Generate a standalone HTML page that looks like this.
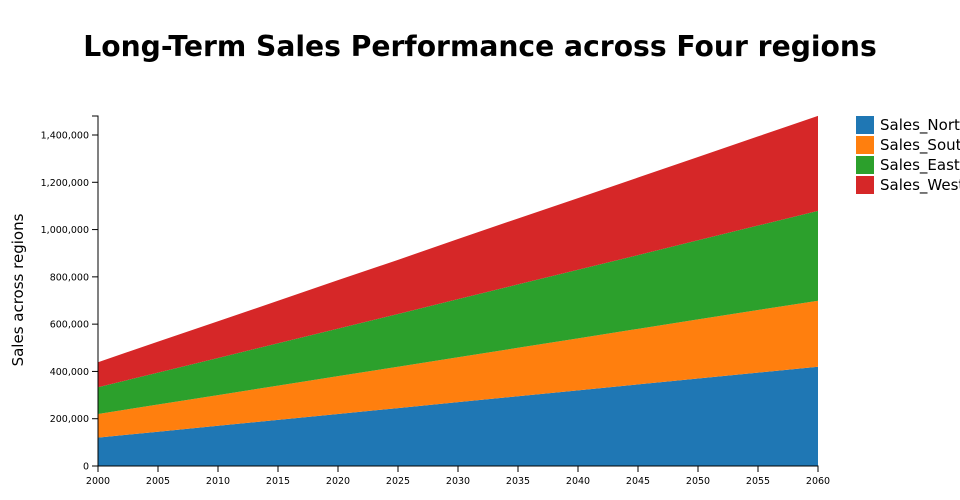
<!DOCTYPE html>
<html><head><meta charset="utf-8"><style>
body{margin:0;background:#fff;}
svg{display:block;font-family:"DejaVu Sans","Liberation Sans",sans-serif;}
</style></head><body>
<svg id="c" width="960" height="500">
<text x="480" y="56" text-anchor="middle" font-size="28.2" font-weight="bold">Long-Term Sales Performance across Four regions</text>
<text transform="translate(23,290) rotate(-90)" text-anchor="middle" font-size="15">Sales across regions</text>
<g id="areas"></g><g id="axes"></g><g id="legend"></g>
</svg>
<script>
const years=[2000,2005,2010,2015,2020,2025,2030,2035,2040,2045,2050,2055,2060];
const seriesNames=["Sales_North","Sales_South","Sales_East","Sales_West"];
const north=[120000,145000,170000,195000,220000,245000,270000,295000,320000,345000,370000,395000,420000];
const south=[100000,115000,130000,145000,160000,175000,190000,205000,220000,235000,250000,265000,279000];
const east=[113000,135000,157000,179000,201000,223000,246000,268000,290000,312000,335000,357000,380000];
const west=[106000,131000,155000,180000,205000,229000,254000,279000,303000,328000,352000,377000,402000];
const yTicks=[0,200000,400000,600000,800000,1000000,1200000,1400000];
const xTicks=[2000,2005,2010,2015,2020,2025,2030,2035,2040,2045,2050,2055,2060];
const colors=["#1f77b4","#ff7f0e","#2ca02c","#d62728"];
const X0=98,X1=818,Y0=466,YPER=(466-135)/1400000;
const xs=v=>X0+(v-2000)/60*(X1-X0);
const ys=v=>Y0-v*YPER;
const NS="http://www.w3.org/2000/svg";
const all=[north,south,east,west];
const areas=document.getElementById('areas');
let base=years.map(()=>0);
all.forEach((s,i)=>{
  const top=s.map((v,j)=>base[j]+v);
  let d=years.map((y,j)=>(j?'L':'M')+xs(y)+','+ys(top[j])).join('');
  for(let j=years.length-1;j>=0;j--)d+='L'+xs(years[j])+','+ys(base[j]);
  const p=document.createElementNS(NS,'path');
  p.setAttribute('d',d+'Z');p.setAttribute('fill',colors[i]);
  
  
  areas.appendChild(p);base=top;
});
const ax=document.getElementById('axes');
function el(t,a,txt){const e=document.createElementNS(NS,t);for(const k in a)e.setAttribute(k,a[k]);if(txt!=null)e.textContent=txt;ax.appendChild(e);return e;}
const yl=el('path',{d:`M92,116H98V466H92`,stroke:'#000',fill:'none'});


const xl=el('path',{d:`M98,472V466H818V472`,stroke:'#000',fill:'none'});


yTicks.forEach(v=>{
  el('line',{x1:92,x2:98,y1:ys(v),y2:ys(v),stroke:'#000'});
  const t=el('text',{x:89,y:ys(v)+3.5,'text-anchor':'end','font-size':9.5},v.toLocaleString('en-US'));
  
  
});
xTicks.forEach(v=>{
  el('line',{x1:xs(v),x2:xs(v),y1:466,y2:472,stroke:'#000'});
  const t=el('text',{x:xs(v),y:484,'text-anchor':'middle','font-size':9.5},v);
  
  
});
const lg=document.getElementById('legend');
seriesNames.forEach((n,i)=>{
  const g=document.createElementNS(NS,'g');
  
  
  const r=document.createElementNS(NS,'rect');
  r.setAttribute('x',856);r.setAttribute('y',116+i*20);r.setAttribute('width',18);r.setAttribute('height',18);r.setAttribute('fill',colors[i]);
  const t=document.createElementNS(NS,'text');
  t.setAttribute('x',880);t.setAttribute('y',130+i*20);t.setAttribute('font-size',15);t.textContent=n;
  g.appendChild(r);g.appendChild(t);lg.appendChild(g);
});
</script>
</body></html>
